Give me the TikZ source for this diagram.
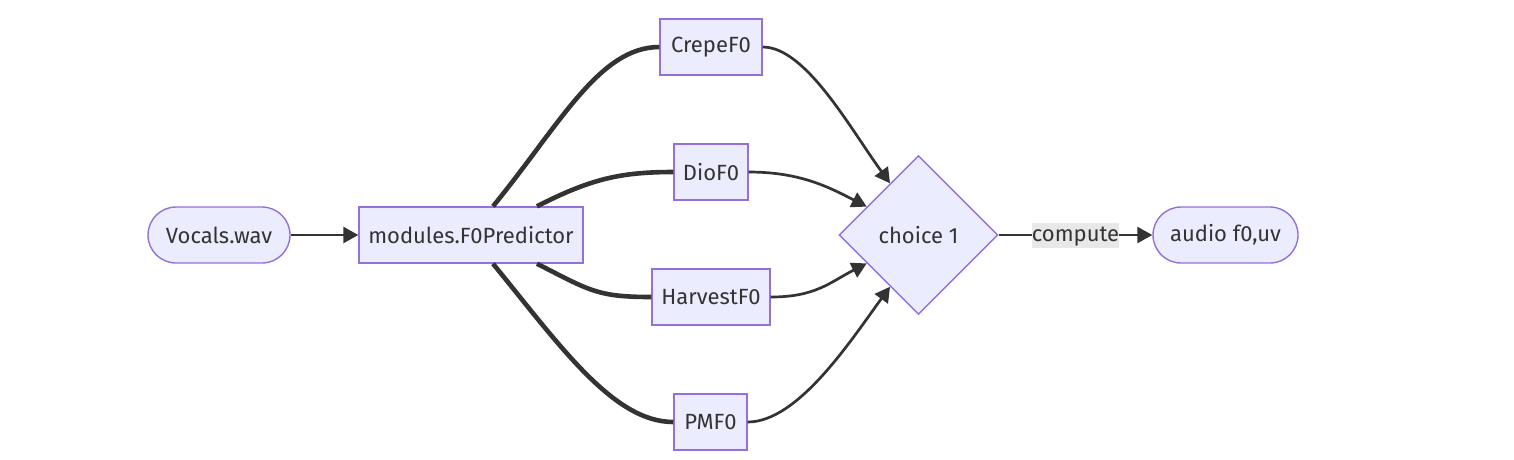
\documentclass[tikz,border=0pt]{standalone}
\usepackage{fontspec}
\setmainfont{Fira Sans}
\usetikzlibrary{arrows.meta,shapes.geometric,calc}
\definecolor{nodefill}{HTML}{ECECFF}
\definecolor{nodeline}{HTML}{9370DB}
\definecolor{edgeline}{HTML}{333333}
\definecolor{labelbg}{HTML}{E8E8E8}
\tikzset{
  box/.style={draw=nodeline,fill=nodefill,line width=1.4pt,inner sep=0pt,
    minimum height=56pt,text=edgeline,font=\fontsize{22}{26}\selectfont},
  stadium/.style={box,rounded corners=28pt},
  choicebox/.style={box,diamond,aspect=1,minimum width=159pt,minimum height=159pt},
  thickedge/.style={draw=edgeline,line width=4.6pt},
  thinedge/.style={draw=edgeline,line width=2.7pt,-{Triangle[length=15pt,width=16pt]}},
  edgelabel/.style={fill=labelbg,inner xsep=0pt,inner ysep=0pt,text=edgeline,
    text height=19pt,text depth=6pt,font=\fontsize{22}{26}\selectfont}
}
\begin{document}
\begin{tikzpicture}[x=1pt,y=-1pt]
    \useasboundingbox (0,0) rectangle (1514,459);

    % Nodes
    \node[stadium,minimum width=142pt] (vocals) at (219,235) {Vocals.wav};
    \node[box,minimum width=224pt] (pred) at (471,235) {modules.F0Predictor};
    \node[box,minimum width=102pt] (crepe) at (711,47) {CrepeF0};
    \node[box,minimum width=74pt] (dio) at (711,172) {DioF0};
    \node[box,minimum width=118pt] (harvest) at (711,297) {HarvestF0};
    \node[box,minimum width=73pt] (pm) at (710.5,422) {PMF0};
    \node[choicebox] (choice) at (918.5,235) {choice 1};
    \node[stadium,minimum width=145pt] (audio) at (1225.5,235) {audio f0,uv};

    % Input
    \draw[thinedge] (vocals.east) -- (pred.west);

    % Thick links to the predictors
    \draw[thickedge] ($(pred.north)+(22,0)$) .. controls +(67,-82) and +(-60,0) .. (crepe.west);
    \draw[thickedge] ($(pred.north)+(66,0)$) .. controls +(53,-27) and +(-54,0) .. (dio.west);
    \draw[thickedge] ($(pred.south)+(66,0)$) .. controls +(53,27) and +(-54,0) .. (harvest.west);
    \draw[thickedge] ($(pred.south)+(22,0)$) .. controls +(67,82) and +(-60,0) .. (pm.west);

    % Arrows into the choice
    \draw[thinedge] (crepe.east) .. controls +(43,0) and +(-40,-55) .. ($(choice.west)!0.645!(choice.north)$);
    \draw[thinedge] (dio.east) .. controls +(52,0) and +(-37,-19) .. ($(choice.west)!0.354!(choice.north)$);
    \draw[thinedge] (harvest.east) .. controls +(45,0) and +(-37,19) .. ($(choice.west)!0.354!(choice.south)$);
    \draw[thinedge] (pm.east) .. controls +(50,0) and +(-40,55) .. ($(choice.west)!0.645!(choice.south)$);

    % Output
    \draw[thinedge] (choice.east) -- node[edgelabel] (compute) {compute} (audio.west);
\end{tikzpicture}
\end{document}
